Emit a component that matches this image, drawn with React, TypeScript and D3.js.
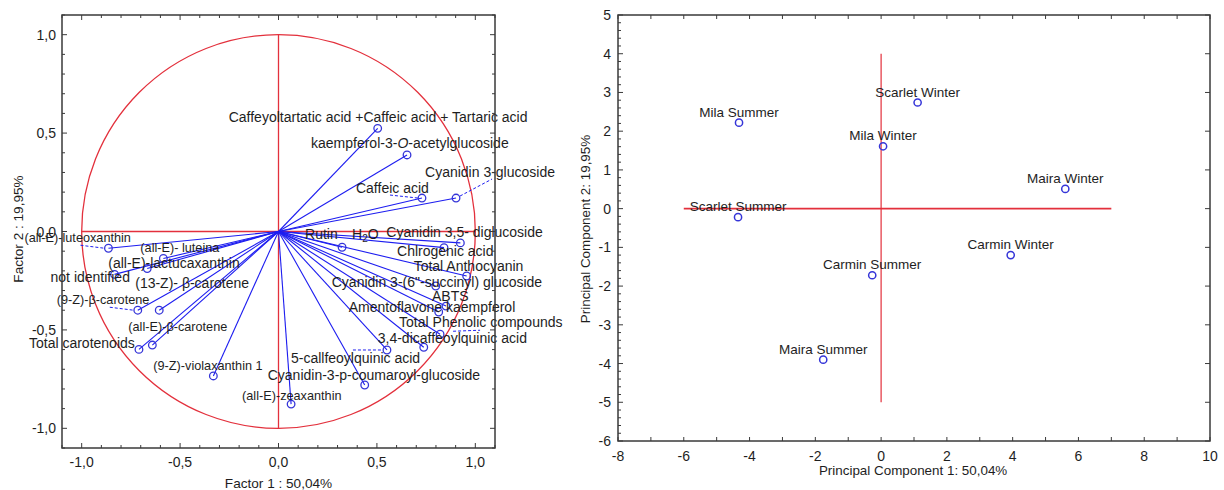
import React from "react";
import * as d3 from "d3";

// ---- Loadings (Factor 1 / Factor 2) ----
const loadingNames = [
  "Caffeyoltartatic acid +Caffeic acid + Tartaric acid",
  "kaempferol-3-O-acetylglucoside",
  "Cyanidin 3-glucoside",
  "Caffeic acid",
  "Rutin",
  "Cyanidin 3,5- diglucoside",
  "Chlrogenic acid",
  "Total Anthocyanin",
  "Cyanidin 3-(6\"-succinyl) glucoside",
  "ABTS",
  "Amentoflavone kaempferol",
  "Total Phenolic compounds",
  "3,4-dicaffeoylquinic acid",
  "5-callfeoylquinic acid",
  "Cyanidin-3-p-coumaroyl-glucoside",
  "(all-E)-zeaxanthin",
  "(all-E)-luteoxanthin",
  "(all-E)- luteina",
  "(all-E)-lactucaxanthin",
  "not identified",
  "(13-Z)- β-carotene",
  "(9-Z)-β-carotene",
  "(all-E)-β-carotene",
  "Total carotenoids",
  "(9-Z)-violaxanthin 1",
];
const factor1 = [
  0.504, 0.653, 0.902, 0.729, 0.323, 0.924, 0.841, 0.956, 0.799, 0.851, 0.814, 0.821, 0.738,
  0.551, 0.438, 0.064, -0.864, -0.585, -0.667, -0.833, -0.606, -0.715, -0.641, -0.709, -0.331,
];
const factor2 = [
  0.524, 0.389, 0.17, 0.17, -0.08, -0.058, -0.082, -0.226, -0.277, -0.379, -0.409, -0.522, -0.588,
  -0.602, -0.78, -0.877, -0.085, -0.137, -0.188, -0.218, -0.4, -0.4, -0.577, -0.599, -0.734,
];
const loadingTicks = [-1, -0.5, 0, 0.5, 1];

// ---- Scores (PC1 / PC2) ----
const scoreNames = [
  "Mila Summer",
  "Scarlet Summer",
  "Scarlet Winter",
  "Mila Winter",
  "Maira Winter",
  "Carmin Winter",
  "Carmin Summer",
  "Maira Summer",
];
const pc1 = [-4.32, -4.35, 1.11, 0.06, 5.6, 3.94, -0.27, -1.76];
const pc2 = [2.22, -0.22, 2.74, 1.61, 0.51, -1.2, -1.72, -3.9];
const pcXTicks = [-8, -6, -4, -2, 0, 2, 4, 6, 8, 10];
const pcYTicks = [-6, -5, -4, -3, -2, -1, 0, 1, 2, 3, 4, 5];

// label placement relative to each loading point (px): [dx to text start, dy to baseline]
const labelOffset: Record<string, [number, number]> = {
  "Caffeyoltartatic acid +Caffeic acid + Tartaric acid": [-149, -6],
  "kaempferol-3-O-acetylglucoside": [-96, -7],
  "Cyanidin 3-glucoside": [-31, -21],
  "Caffeic acid": [-66, -5],
  "Rutin": [-37, -8],
  "Cyanidin 3,5- diglucoside": [-74, -6],
  "Chlrogenic acid": [-47, 8],
  "Total Anthocyanin": [-53, -5],
  "Cyanidin 3-(6\"-succinyl) glucoside": [-104, 1],
  "ABTS": [-14, -5],
  "Amentoflavone kaempferol": [-90, 0],
  "Total Phenolic compounds": [-41, -7],
  "3,4-dicaffeoylquinic acid": [-46, -4],
  "5-callfeoylquinic acid": [-96, 13],
  "Cyanidin-3-p-coumaroyl-glucoside": [-97, -5],
  "(all-E)-zeaxanthin": [-49, -4],
  "(all-E)-luteoxanthin": [-84, -6],
  "(all-E)- luteina": [-23, -6],
  "(all-E)-lactucaxanthin": [-39, -1],
  "not identified": [-64, 8],
  "(13-Z)- β-carotene": [-24, -22],
  "(9-Z)-β-carotene": [-81, -6],
  "(all-E)-β-carotene": [-24, -14],
  "Total carotenoids": [-110, -1],
  "(9-Z)-violaxanthin 1": [-60, -6],
};
const smallLabels = new Set([
  "(all-E)-luteoxanthin",
  "(all-E)- luteina",
  "(all-E)-zeaxanthin",
  "(9-Z)-β-carotene",
  "(all-E)-β-carotene",
  "(9-Z)-violaxanthin 1",
]);
// dashed leaders: start offset and end offset relative to the point
const leaders: Record<string, [number, number, number, number]> = {
  "(all-E)-luteoxanthin": [-28, -3, -4, 0],
  "(9-Z)-β-carotene": [-28, -3, -4, 0],
  "Caffeic acid": [-32, -3, -4, 0],
  "Cyanidin 3-glucoside": [4, -2, 36, -19],
  "Total Phenolic compounds": [13, -3, 40, -4],
  "5-callfeoylquinic acid": [-34, 0, -4, 0],
};

const FONT = "'Liberation Sans', Arial, sans-serif";
const BLUE = "#1d1df0";
const POINT = "#3535d8";
const RED = "#e3303c";
const FRAME = "#3a3a3a";
const INK = "#1e1e1e";

const fmtComma = (v: number) => (v < 0 ? "-" : "") + Math.abs(v).toFixed(1).replace(".", ",");

function LabelText({ name, x, y }: { name: string; x: number; y: number }) {
  const size = smallLabels.has(name) ? 12.7 : 14;
  if (name === "kaempferol-3-O-acetylglucoside") {
    return (
      <text x={x} y={y} fontSize={size} fill={INK}>
        kaempferol-3-<tspan fontStyle="italic">O</tspan>-acetylglucoside
      </text>
    );
  }
  return (
    <text x={x} y={y} fontSize={size} fill={INK}>
      {name}
    </text>
  );
}

function LoadingsPlot() {
  const x = d3.scaleLinear().domain([-1.1, 1.1]).range([62, 495]);
  const y = d3.scaleLinear().domain([-1.1, 1.1]).range([448, 15]);
  const x0 = x(0);
  const y0 = y(0);
  const r = x(1) - x(0);
  const minor = d3.range(-11, 12).map((i) => i / 10);

  return (
    <g fontFamily={FONT}>
      {/* unit circle and axes cross */}
      <circle cx={x0} cy={y0} r={r} fill="none" stroke={RED} strokeWidth={1.3} />
      <line x1={x(-1)} x2={x(1)} y1={y0} y2={y0} stroke={RED} strokeWidth={1.5} />
      <line x1={x0} x2={x0} y1={y(1)} y2={y(-1)} stroke={RED} strokeWidth={1.3} />

      {/* vectors */}
      {loadingNames.map((n, i) => (
        <line
          key={"v" + n}
          x1={x0}
          y1={y0}
          x2={x(factor1[i])}
          y2={y(factor2[i])}
          stroke={BLUE}
          strokeWidth={1.1}
        />
      ))}
      {loadingNames.map((n, i) => {
        const l = leaders[n];
        if (!l) return null;
        const px = x(factor1[i]);
        const py = y(factor2[i]);
        return (
          <line
            key={"d" + n}
            x1={px + l[0]}
            y1={py + l[1]}
            x2={px + l[2]}
            y2={py + l[3]}
            stroke={BLUE}
            strokeWidth={1}
            strokeDasharray="3,2"
          />
        );
      })}
      {loadingNames.map((n, i) => (
        <circle
          key={"p" + n}
          cx={x(factor1[i])}
          cy={y(factor2[i])}
          r={3.8}
          fill="none"
          stroke={POINT}
          strokeWidth={1.3}
        />
      ))}
      {loadingNames.map((n, i) => {
        const o = labelOffset[n];
        return <LabelText key={"t" + n} name={n} x={x(factor1[i]) + o[0]} y={y(factor2[i]) + o[1]} />;
      })}
      <text x={352} y={239} fontSize={14} fill={INK}>
        H<tspan fontSize={10} dy={3}>2</tspan>
        <tspan dy={-3}>O</tspan>
      </text>

      {/* frame and ticks */}
      <rect x={62} y={15} width={433} height={433} fill="none" stroke={FRAME} strokeWidth={1.5} />
      {minor.map((v) => {
        const major = Math.abs(Math.round(v * 2) - v * 2) < 1e-6;
        const len = major ? 5 : 3;
        return (
          <g key={"tk" + v} stroke={FRAME} strokeWidth={1}>
            <line x1={x(v)} x2={x(v)} y1={448} y2={448 - len} />
            <line x1={x(v)} x2={x(v)} y1={15} y2={15 + len} />
            <line x1={62} x2={62 + len} y1={y(v)} y2={y(v)} />
            <line x1={495} x2={495 - len} y1={y(v)} y2={y(v)} />
          </g>
        );
      })}
      {loadingTicks.map((v) => (
        <text key={"xl" + v} x={x(v)} y={467} fontSize={14} textAnchor="middle" fill={INK}>
          {fmtComma(v)}
        </text>
      ))}
      {loadingTicks.map((v) => (
        <text key={"yl" + v} x={56} y={y(v) + 5} fontSize={14} textAnchor="end" fill={INK}>
          {fmtComma(v)}
        </text>
      ))}
      <text x={x0} y={488} fontSize={13.6} textAnchor="middle" fill={INK}>
        Factor 1 : 50,04%
      </text>
      <text
        transform="translate(18,229) rotate(-90)"
        dy="0.35em"
        fontSize={13.6}
        textAnchor="middle"
        fill={INK}
      >
        Factor 2 : 19,95%
      </text>
    </g>
  );
}

function ScoresPlot() {
  const x = d3.scaleLinear().domain([-8, 10]).range([618, 1210]);
  const y = d3.scaleLinear().domain([-6, 5]).range([441, 15]);
  const xMinor = d3.range(-8, 11, 1);
  const yMinor = d3.range(-30, 26).map((i) => i / 5);

  return (
    <g fontFamily={FONT}>
      <line x1={x(-6)} x2={x(7)} y1={y(0)} y2={y(0)} stroke={RED} strokeWidth={1.8} />
      <line x1={x(0)} x2={x(0)} y1={y(4)} y2={y(-5)} stroke={RED} strokeWidth={1.2} />

      {scoreNames.map((n, i) => (
        <g key={n}>
          <circle cx={x(pc1[i])} cy={y(pc2[i])} r={3.6} fill="none" stroke={POINT} strokeWidth={1.5} />
          <text x={x(pc1[i])} y={y(pc2[i]) - 6} fontSize={13.5} textAnchor="middle" fill={INK}>
            {n}
          </text>
        </g>
      ))}

      <rect x={618} y={15} width={592} height={426} fill="none" stroke={FRAME} strokeWidth={1.5} />
      {xMinor.map((v) => (
        <g key={"xt" + v} stroke={FRAME} strokeWidth={1}>
          <line x1={x(v)} x2={x(v)} y1={441} y2={437} />
          <line x1={x(v)} x2={x(v)} y1={15} y2={19} />
        </g>
      ))}
      {yMinor.map((v) => {
        const major = Math.abs(v - Math.round(v)) < 1e-6;
        return (
          <g key={"yt" + v} stroke={FRAME} strokeWidth={1}>
            <line x1={618} x2={618 + (major ? 5 : 3)} y1={y(v)} y2={y(v)} />
            {major && <line x1={1210} x2={1205} y1={y(v)} y2={y(v)} />}
          </g>
        );
      })}
      {pcXTicks.map((v) => (
        <text key={"xl" + v} x={x(v)} y={461} fontSize={14} textAnchor="middle" fill={INK}>
          {v < 0 ? "-" + Math.abs(v) : v}
        </text>
      ))}
      {pcYTicks.map((v) => (
        <text key={"yl" + v} x={611} y={y(v) + 5} fontSize={14} textAnchor="end" fill={INK}>
          {v < 0 ? "-" + Math.abs(v) : v}
        </text>
      ))}
      <text x={x(0) + 32} y={475} fontSize={13.4} textAnchor="middle" fill={INK}>
        Principal Component 1: 50,04%
      </text>
      <text
        transform="translate(585,229) rotate(-90)"
        dy="0.35em"
        fontSize={13.4}
        textAnchor="middle"
        fill={INK}
      >
        Principal Component 2: 19,95%
      </text>
    </g>
  );
}

export default function App() {
  return (
    <svg
      width={1224}
      height={490}
      viewBox="0 0 1224 490"
      style={{ position: "fixed", left: 0, top: 0, background: "#fff" }}
    >
      <rect width={1224} height={490} fill="#fff" />
      <LoadingsPlot />
      <ScoresPlot />
    </svg>
  );
}
